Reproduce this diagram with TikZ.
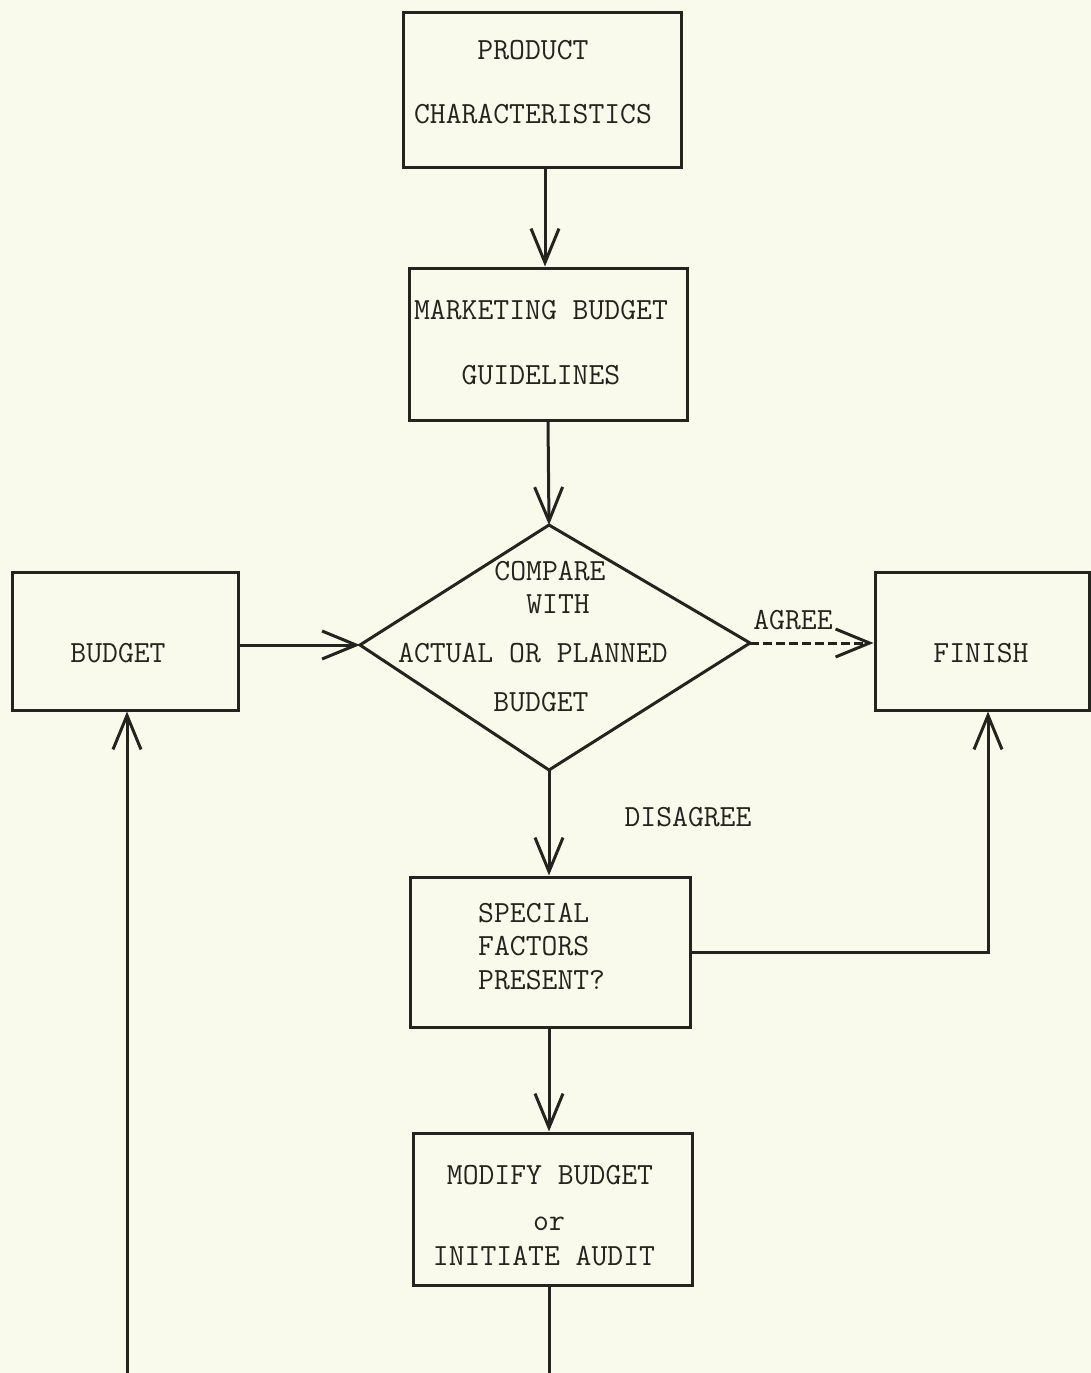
\documentclass[tikz,border=0pt]{standalone}
\usetikzlibrary{arrows.meta,calc}
\definecolor{paper}{RGB}{250,250,236}
\definecolor{ink}{RGB}{36,36,30}
\begin{document}
\begin{tikzpicture}[x=1pt,y=-1pt,
  box/.style={draw=ink,line width=3pt,rectangle,inner sep=0pt},
  txt/.style={font=\fontsize{30.8}{36}\selectfont\ttfamily,text=ink,inner sep=0pt,anchor=base},
  arr/.style={draw=ink,line width=3pt,-{Straight Barb[length=34pt,width=28pt]}},
  ln/.style={draw=ink,line width=3pt}]
\fill[paper] (0,0) rectangle (1091,1373);
\useasboundingbox (0,0) rectangle (1091,1373);

% boxes
\node[box,minimum width=278pt,minimum height=155pt] (pc) at (542,89.5) {};
\node[box,minimum width=278pt,minimum height=152pt] (mb) at (548,344) {};
\node[box,minimum width=226pt,minimum height=138pt] (bud) at (125,641) {};
\node[box,minimum width=214pt,minimum height=138pt] (fin) at (982,641) {};
\node[box,minimum width=280pt,minimum height=150pt] (sf) at (550,952) {};
\node[box,minimum width=279pt,minimum height=152pt] (mod) at (552.5,1209) {};

% diamond
\coordinate (dt) at (549,525);
\coordinate (dl) at (360,645);
\coordinate (dr) at (750,643);
\coordinate (db) at (549,770);
\draw[ln,line join=miter] (dt) -- (dr) -- (db) -- (dl) -- cycle;

% texts
\node[txt] (t1) at (533,59.4) {PRODUCT};
\node[txt] (t2) at (533,123.4) {CHARACTERISTICS};
\node[txt] (t3) at (541,319.4) {MARKETING BUDGET};
\node[txt] (t4) at (541,384.4) {GUIDELINES};
\node[txt] (t5) at (550,580.4) {COMPARE};
\node[txt] (t6) at (558,613.4) {WITH};
\node[txt] (t7) at (533,662.4) {ACTUAL OR PLANNED};
\node[txt] (t8) at (541,711.4) {BUDGET};
\node[txt] (t9) at (118,662.4) {BUDGET};
\node[txt] (t10) at (981,662.4) {FINISH};
\node[txt] (t11) at (793,629.4) {AGREE};
\node[txt] (t12) at (688,826.4) {DISAGREE};
\node[txt,anchor=base west] (t13) at (478,922.4) {SPECIAL};
\node[txt,anchor=base west] (t14) at (478,955.4) {FACTORS};
\node[txt,anchor=base west] (t15) at (478,989.4) {PRESENT?};
\node[txt] (t16) at (550,1184.4) {MODIFY BUDGET};
\node[txt] (t17) at (549,1230) {or};
\node[txt] (t18) at (544,1265.4) {INITIATE AUDIT};

% connectors
\draw[arr] ($(pc.south)+(3,0)$) -- ($(mb.north)+(-3,0)$);
\draw[arr] (mb.south) -- (dt);
\draw[arr] (bud.east |- dl) -- (dl);
\draw[arr,dash pattern=on 9pt off 4pt] (dr) -- (dr -| fin.west);
\draw[arr] (db) -- (db |- sf.north);
\draw[arr] (dt |- sf.south) -- (dt |- mod.north);
\draw[arr] (sf.east) -| ([xshift=6pt]fin.south);
\coordinate (endA) at (549,1373);
\coordinate (endB) at (127,1373);
\draw[ln] (endA |- mod.south) -- (endA);
\draw[arr] (endB) -- (endB |- bud.south);
\end{tikzpicture}
\end{document}
